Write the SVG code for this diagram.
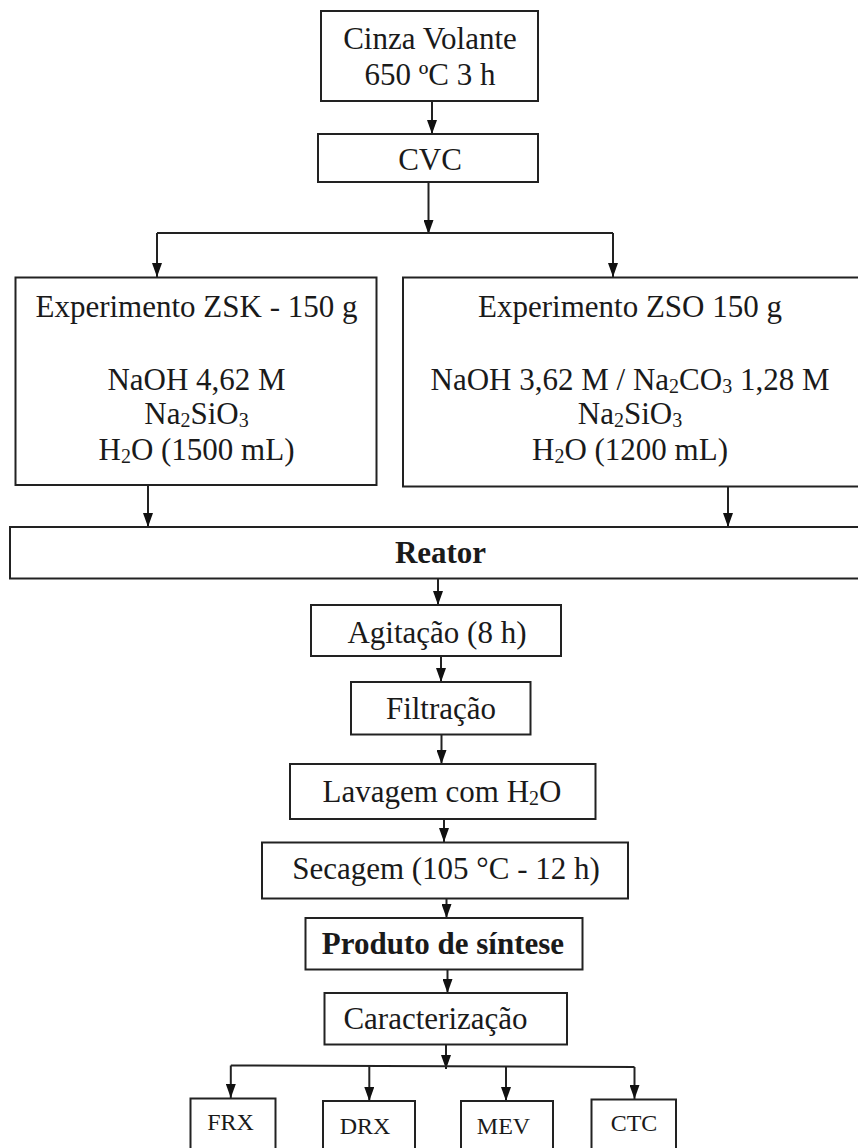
<svg xmlns="http://www.w3.org/2000/svg" width="858" height="1148" viewBox="0 0 858 1148">
<style>
.box{fill:#fff;stroke:#222;stroke-width:2}
.t{font-family:"Liberation Serif","Times New Roman",serif;font-size:31px;fill:#1a1a1a;text-anchor:middle}
.b{font-weight:bold}
.s{font-family:"Liberation Serif","Times New Roman",serif;font-size:24px;fill:#1a1a1a;text-anchor:middle}
.c{fill:none;stroke:#222;stroke-width:2}
.a{fill:none;stroke:#222;stroke-width:2;marker-end:url(#ah)}
</style>
<defs>
<marker id="ah" markerUnits="userSpaceOnUse" markerWidth="14" markerHeight="10" viewBox="0 0 14 10" refX="14" refY="5" orient="auto">
<path d="M0,0 L14,5 L0,10 z" fill="#111"/>
</marker>
</defs>
<rect width="858" height="1148" fill="#fff"/>
<g id="connectors">
<line class="a" x1="432" y1="102" x2="432" y2="134"/>
<line class="a" x1="428.5" y1="182" x2="428.5" y2="234"/>
<line class="c" x1="157" y1="233" x2="613" y2="233"/>
<line class="a" x1="157" y1="233" x2="157" y2="277"/>
<line class="a" x1="613" y1="233" x2="613" y2="277"/>
<line class="a" x1="148" y1="485" x2="148" y2="527"/>
<line class="a" x1="728" y1="487" x2="728" y2="527"/>
<line class="a" x1="438" y1="579" x2="438" y2="605"/>
<line class="a" x1="441" y1="656" x2="441" y2="682"/>
<line class="a" x1="441.5" y1="734" x2="441.5" y2="764"/>
<line class="a" x1="444" y1="819" x2="444" y2="842"/>
<line class="a" x1="446.5" y1="898" x2="446.5" y2="918"/>
<line class="a" x1="447.5" y1="969" x2="447.5" y2="993"/>
<line class="a" x1="446" y1="1044" x2="446" y2="1069"/>
<line class="c" x1="230.8" y1="1065.5" x2="634.5" y2="1067"/>
<line class="a" x1="230.8" y1="1065.5" x2="230.8" y2="1098"/>
<line class="a" x1="369.3" y1="1066" x2="369.3" y2="1101"/>
<line class="a" x1="506" y1="1066.5" x2="506" y2="1101"/>
<line class="a" x1="634.5" y1="1067" x2="634.5" y2="1099"/>
</g>
<g id="cinza">
<rect class="box" x="321" y="11" width="217" height="90"/>
<text class="t" x="430" y="49">Cinza Volante</text>
<text class="t" x="430" y="85">650 ºC 3 h</text>
</g>
<g id="cvc">
<rect class="box" x="318" y="134" width="220" height="48"/>
<text class="t" x="430" y="170">CVC</text>
</g>
<g id="zsk">
<rect class="box" x="15.5" y="277.5" width="361" height="207.5"/>
<text class="t" x="196.5" y="317">Experimento ZSK - 150 g</text>
<text class="t" x="196.5" y="390">NaOH 4,62 M</text>
<text class="t" x="196.5" y="424">Na<tspan font-size="20" dy="3">2</tspan><tspan dy="-3">SiO</tspan><tspan font-size="20" dy="3">3</tspan></text>
<text class="t" x="196.5" y="460">H<tspan font-size="20" dy="3">2</tspan><tspan dy="-3">O (1500 mL)</tspan></text>
</g>
<g id="zso">
<rect class="box" x="403" y="277.5" width="460" height="209"/>
<text class="t" x="630" y="317">Experimento ZSO 150 g</text>
<text class="t" x="630" y="390">NaOH 3,62 M / Na<tspan font-size="20" dy="3">2</tspan><tspan dy="-3">CO</tspan><tspan font-size="20" dy="3">3</tspan><tspan dy="-3"> 1,28 M</tspan></text>
<text class="t" x="630" y="424">Na<tspan font-size="20" dy="3">2</tspan><tspan dy="-3">SiO</tspan><tspan font-size="20" dy="3">3</tspan></text>
<text class="t" x="630" y="460">H<tspan font-size="20" dy="3">2</tspan><tspan dy="-3">O (1200 mL)</tspan></text>
</g>
<g id="reator">
<rect class="box" x="10" y="527" width="853" height="51.5"/>
<text class="t b" x="440.5" y="563">Reator</text>
</g>
<g id="agitacao">
<rect class="box" x="311" y="605" width="250" height="51"/>
<text class="t" x="437" y="643">Agitação (8 h)</text>
</g>
<g id="filtracao">
<rect class="box" x="351" y="682" width="179.5" height="52.5"/>
<text class="t" x="441" y="718.5">Filtração</text>
</g>
<g id="lavagem">
<rect class="box" x="290" y="764" width="305.5" height="55"/>
<text class="t" x="442" y="802">Lavagem com H<tspan font-size="20" dy="3">2</tspan><tspan dy="-3">O</tspan></text>
</g>
<g id="secagem">
<rect class="box" x="262" y="842.5" width="366" height="56"/>
<text class="t" x="446" y="878.5">Secagem (105 °C - 12 h)</text>
</g>
<g id="produto">
<rect class="box" x="305.5" y="918" width="277" height="51.5"/>
<text class="t b" x="443" y="954" font-size="29">Produto de síntese</text>
</g>
<g id="caracterizacao">
<rect class="box" x="324.5" y="993" width="242.5" height="51.5"/>
<text class="t" x="435.5" y="1029">Caracterização</text>
</g>
<g id="frx">
<rect class="box" x="190.5" y="1098.5" width="85" height="60"/>
<text class="s" x="230.5" y="1129.5">FRX</text>
</g>
<g id="drx">
<rect class="box" x="323" y="1101" width="92" height="60"/>
<text class="s" x="365" y="1133.5">DRX</text>
</g>
<g id="mev">
<rect class="box" x="461" y="1101" width="92" height="60"/>
<text class="s" x="503.5" y="1133.5">MEV</text>
</g>
<g id="ctc">
<rect class="box" x="591.5" y="1099.5" width="84.5" height="60"/>
<text class="s" x="634" y="1130.5">CTC</text>
</g>
</svg>
